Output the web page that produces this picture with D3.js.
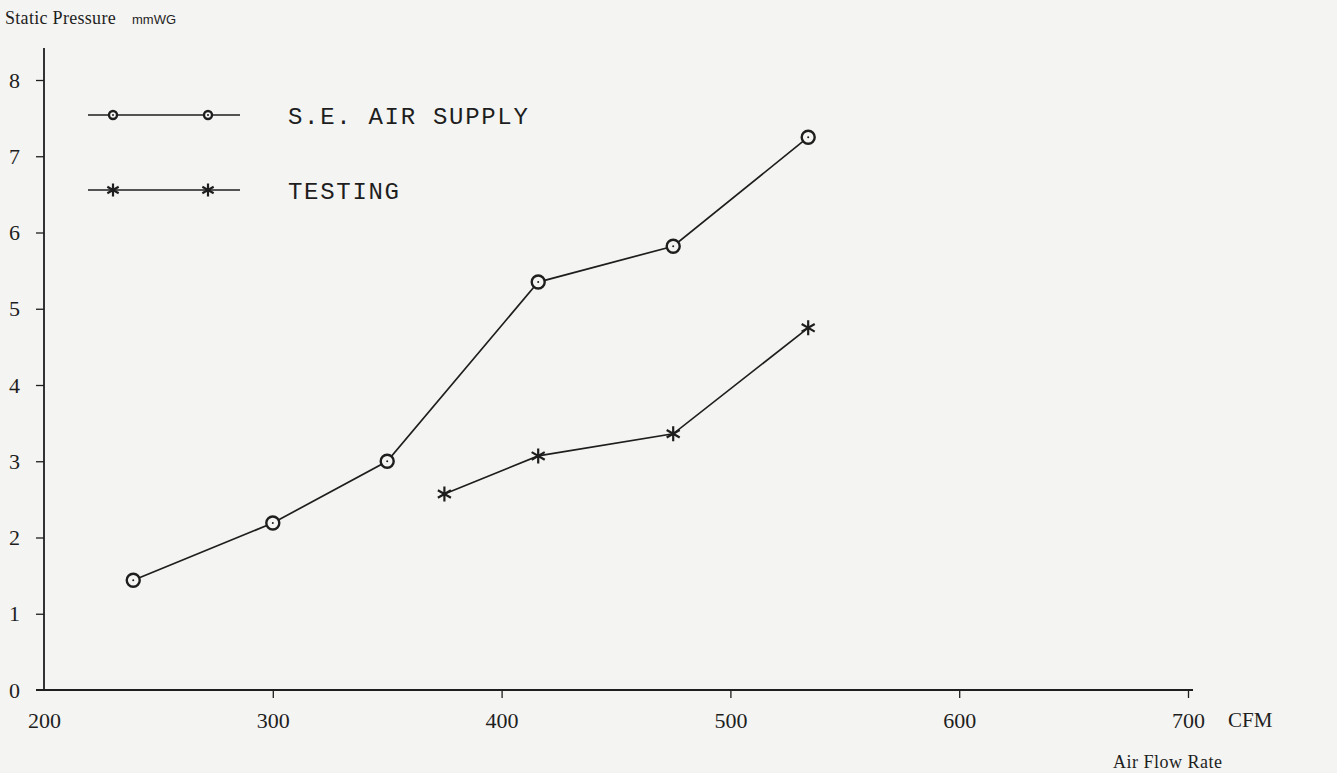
<!DOCTYPE html>
<html>
<head>
<meta charset="utf-8">
<script src="https://cdn.jsdelivr.net/npm/d3@7"></script>
<style>
  body { margin: 0; background: #f4f4f2; }
  svg { display: block; }
</style>
</head>
<body>
<script>
// values
var supplyFlow = [239, 300, 350, 416, 475, 534];
var supplyPressure = [1.44, 2.19, 3.0, 5.35, 5.82, 7.25];
var testFlow = [375, 416, 475, 534];
var testPressure = [2.57, 3.07, 3.36, 4.75];
var xTicks = [200, 300, 400, 500, 600, 700];
var yTicks = [0, 1, 2, 3, 4, 5, 6, 7, 8];
var legendNames = ["S.E. AIR SUPPLY", "TESTING"];

var width = 1337;
var height = 773;
var ink = "#1e1e1e";

var svg = d3.select("body")
    .append("svg")
    .attr("width", width)
    .attr("height", height);

svg.append("rect")
    .attr("width", width)
    .attr("height", height)
    .attr("fill", "#f4f4f2");

var xScale = d3.scaleLinear()
    .domain([200, 700])
    .range([44, 1188]);
var yScale = d3.scaleLinear()
    .domain([0, 8])
    .range([690, 80]);

// axes
var xAxis = d3.axisBottom(xScale)
    .tickValues(xTicks)
    .tickSize(8)
    .tickPadding(14)
    .tickFormat(d3.format("d"));
var yAxis = d3.axisLeft(yScale)
    .tickValues(yTicks)
    .tickSize(8)
    .tickPadding(16)
    .tickFormat(d3.format("d"));

var xAxisG = svg.append("g")
    .attr("transform", "translate(0," + yScale(0) + ")")
    .call(xAxis);
xAxisG.select(".domain").remove();
xAxisG.selectAll(".tick").filter(function(d) { return d === 200; }).select("line").remove();

var yAxisG = svg.append("g")
    .attr("transform", "translate(" + xScale(200) + ",0)")
    .call(yAxis);
yAxisG.select(".domain").remove();
yAxisG.selectAll(".tick").filter(function(d) { return d === 0; }).select("line").remove();

svg.selectAll(".tick line").attr("stroke", ink).attr("stroke-width", 1.3);
svg.selectAll(".tick text")
    .attr("fill", ink)
    .attr("font-family", "'Liberation Serif', 'DejaVu Serif', serif")
    .attr("font-size", "22px");

// axis lines drawn by hand, they overshoot a bit like the original
svg.append("line")
    .attr("x1", xScale(200) - 8).attr("x2", xScale(700) + 5)
    .attr("y1", yScale(0)).attr("y2", yScale(0))
    .attr("stroke", ink).attr("stroke-width", 1.8);
svg.append("line")
    .attr("x1", xScale(200)).attr("x2", xScale(200))
    .attr("y1", yScale(0)).attr("y2", 48)
    .attr("stroke", ink).attr("stroke-width", 1.8);

// axis titles
svg.append("text")
    .attr("x", 5).attr("y", 24)
    .attr("font-family", "'Liberation Serif', serif")
    .attr("font-size", "18px")
    .attr("letter-spacing", "0.3px")
    .attr("fill", ink)
    .text("Static Pressure");
svg.append("text")
    .attr("x", 132).attr("y", 24)
    .attr("font-family", "'Liberation Sans', sans-serif")
    .attr("font-size", "13px")
    .attr("fill", ink)
    .text("mmWG");
svg.append("text")
    .attr("x", 1228).attr("y", 727)
    .attr("font-family", "'Liberation Serif', serif")
    .attr("font-size", "21px")
    .attr("fill", ink)
    .text("CFM");
svg.append("text")
    .attr("x", 1113).attr("y", 768)
    .attr("font-family", "'Liberation Serif', serif")
    .attr("font-size", "18px")
    .attr("letter-spacing", "0.5px")
    .attr("fill", ink)
    .text("Air Flow Rate");

// series
var line = d3.line()
    .x(function(d) { return xScale(d[0]); })
    .y(function(d) { return yScale(d[1]); });

var supply = d3.zip(supplyFlow, supplyPressure);
var testing = d3.zip(testFlow, testPressure);

svg.append("path")
    .datum(supply)
    .attr("d", line)
    .attr("fill", "none")
    .attr("stroke", ink)
    .attr("stroke-width", 1.7);
svg.append("path")
    .datum(testing)
    .attr("d", line)
    .attr("fill", "none")
    .attr("stroke", ink)
    .attr("stroke-width", 1.7);

function drawCircles(g, pts, r) {
    var c = g.selectAll(null)
        .data(pts)
        .enter()
        .append("g")
        .attr("transform", function(d) { return "translate(" + d[0] + "," + d[1] + ")"; });
    c.append("circle")
        .attr("r", r)
        .attr("fill", "#f4f4f2")
        .attr("stroke", ink)
        .attr("stroke-width", 2.4);
    c.append("circle")
        .attr("r", 1)
        .attr("fill", ink);
}

function drawStars(g, pts, size) {
    g.selectAll(null)
        .data(pts)
        .enter()
        .append("path")
        .attr("transform", function(d) { return "translate(" + d[0] + "," + d[1] + ")"; })
        .attr("d", d3.symbol().type(d3.symbolAsterisk).size(size))
        .attr("fill", "none")
        .attr("stroke", ink)
        .attr("stroke-width", 2.2);
}

drawCircles(svg.append("g"), supply.map(function(d) { return [xScale(d[0]), yScale(d[1])]; }), 6.5);
drawStars(svg.append("g"), testing.map(function(d) { return [xScale(d[0]), yScale(d[1])]; }), 160);

// legend
var legendY = [115, 190];
legendY.forEach(function(y, i) {
    svg.append("line")
        .attr("x1", 88).attr("x2", 240)
        .attr("y1", y).attr("y2", y)
        .attr("stroke", ink).attr("stroke-width", 1.6);
    var pts = [[113, y], [208, y]];
    if (i === 0) {
        drawCircles(svg.append("g"), pts, 4);
    } else {
        drawStars(svg.append("g"), pts, 120);
    }
    svg.append("text")
        .attr("x", 288).attr("y", y + 9)
        .attr("font-family", "'Liberation Mono', 'DejaVu Sans Mono', monospace")
        .attr("font-size", "24px")
        .attr("letter-spacing", "1.7px")
        .attr("fill", ink)
        .text(legendNames[i]);
});
</script>
</body>
</html>
